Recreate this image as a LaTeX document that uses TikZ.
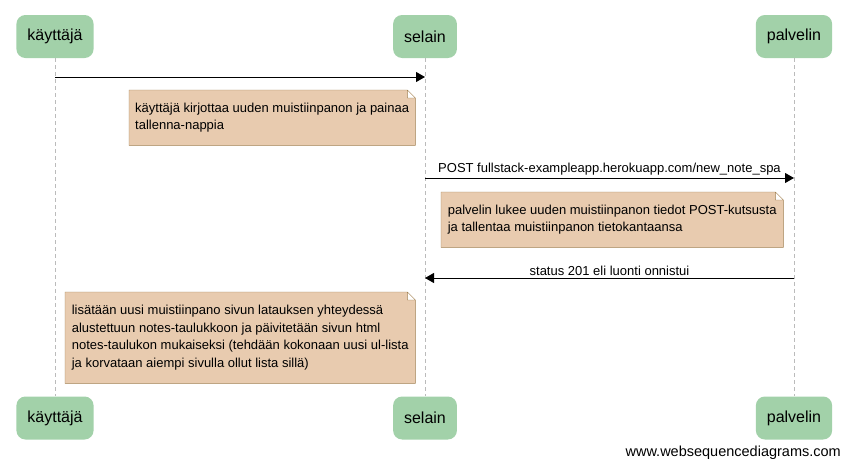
\documentclass[tikz,border=0pt]{standalone}
\usepackage{fontspec}
\setmainfont{Liberation Sans}
\usetikzlibrary{arrows.meta,backgrounds}
\definecolor{actorgreen}{HTML}{A2D1A9}
\definecolor{notefill}{HTML}{E8CBAF}
\definecolor{noteline}{HTML}{A08050}
\definecolor{lifegray}{HTML}{BBBBBB}
\begin{document}
\begin{tikzpicture}[x=1pt, y=-1pt,
  actor/.style={fill=actorgreen, rounded corners=9pt, minimum height=43pt, inner xsep=11pt, font=\fontsize{16}{19}\selectfont},
  lifeline/.style={lifegray, dash pattern=on 4pt off 3pt},
  msg/.style={line width=1pt, -{Triangle[length=9pt,width=10pt]}},
  lbl/.style={above, inner sep=2pt, font=\fontsize{13}{16}\selectfont},
  note/.style={anchor=north west, inner xsep=6pt, inner ysep=0pt, align=left, font=\fontsize{13}{17.5}\selectfont}]
\useasboundingbox (0,0) rectangle (847,463);
\foreach \n/\t/\x in {kayttaja/käyttäjä/55, selain/selain/425, palvelin/palvelin/794} {
  \node[actor] (\n-top) at (\x,36.5) {\t};
  \node[actor] (\n-bot) at (\x,418) {\t};
  \draw[lifeline] (\n-top) -- (\n-bot);
}
\draw[msg] (kayttaja-top |- 0,77) -- (selain-top |- 0,77);
\node[note, minimum width=285pt, minimum height=55pt] (huom1) at (129,90)
  {käyttäjä kirjottaa uuden muistiinpanon ja painaa\\tallenna-nappia};
\draw[msg] (selain-top |- 0,178) -- node[lbl] {POST fullstack-exampleapp.herokuapp.com/new\_note\_spa} (palvelin-top |- 0,178);
\node[note, minimum width=342pt, minimum height=55pt] (huom2) at (441,192)
  {palvelin lukee uuden muistiinpanon tiedot POST-kutsusta\\ja tallentaa muistiinpanon tietokantaansa};
\draw[msg] (palvelin-top |- 0,278) -- node[lbl] {status 201 eli luonti onnistui} (selain-top |- 0,278);
\node[note, minimum width=350pt, minimum height=91pt] (huom3) at (65,292)
  {lisätään uusi muistiinpano sivun latauksen yhteydessä\\alustettuun notes-taulukkoon ja päivitetään sivun html\\notes-taulukon mukaiseksi (tehdään kokonaan uusi ul-lista\\ja korvataan aiempi sivulla ollut lista sillä)};
\begin{scope}[on background layer]
\foreach \h in {huom1,huom2,huom3}
  \draw[noteline, fill=notefill] (\h.south west) -- (\h.north west) -- ([xshift=-8pt]\h.north east)
    -- ([yshift=-8pt]\h.north east) -- (\h.south east) -- cycle
    ([xshift=-8pt]\h.north east) |- ([yshift=-8pt]\h.north east);
\end{scope}
\node[anchor=base east, inner sep=0pt, font=\fontsize{14.5}{17}\selectfont] (sivusto) at (841,456) {www.websequencediagrams.com};
\end{tikzpicture}
\end{document}
